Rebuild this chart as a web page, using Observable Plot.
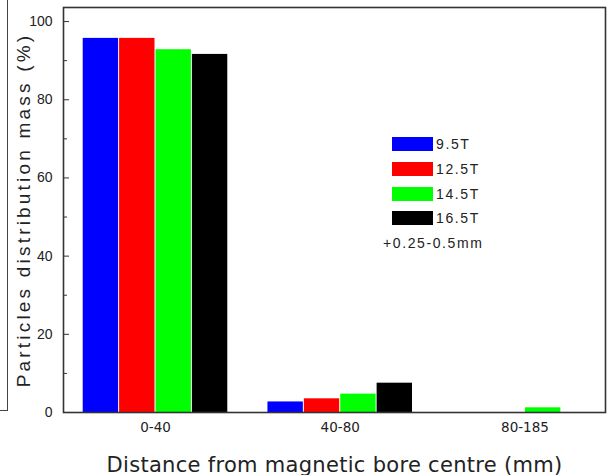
<!DOCTYPE html>
<html>
<head>
<meta charset="utf-8">
<script src="https://cdn.jsdelivr.net/npm/d3@7"></script>
<script src="https://cdn.jsdelivr.net/npm/@observablehq/plot@0.6"></script>
<style>
  body { margin: 0; background: #fff; }
  #chart { position: relative; width: 612px; height: 475px; overflow: hidden; background: #fff; }
  #chart svg { position: absolute; left: 0; top: 0; }
  g[aria-label="y-axis label"] text { letter-spacing: 3.2px; }
  g[aria-label="x-axis label"] text { letter-spacing: 0.3px; }
  .edge { position: absolute; left: 0; top: 0; width: 7px; height: 410px;
          border-right: 1.5px solid #444; border-bottom: 1.5px solid #444; }
  .legend { position: absolute; left: 383px; top: 132px; font-family: "Liberation Sans", Arial, sans-serif;
            font-size: 14px; color: #222; letter-spacing: 1.6px; }
  .legend .row { display: flex; align-items: center; height: 24.7px; margin-left: 9px; }
  .legend .sw { width: 41px; height: 14px; margin-right: 3px; }
  .legend .note { margin-top: 4px; }
</style>
</head>
<body>
<div id="chart"></div>
<script>
// Distance bands from the magnetic bore centre (mm)
const groups = ["0-40", "40-80", "80-185"];
// Field strengths
const series = ["9.5T", "12.5T", "14.5T", "16.5T"];
const colors = ["#0000ff", "#ff0000", "#00ff00", "#000000"];
// Particle mass distribution (%) per distance band, one array per field strength
const mass_9_5T = [95.7, 2.7, 0];
const mass_12_5T = [95.7, 3.5, 0];
const mass_14_5T = [92.8, 4.7, 1.2];
const mass_16_5T = [91.6, 7.5, 0];
const yTicks = [0, 20, 40, 60, 80, 100];
const yMinorTicks = [10, 30, 50, 70, 90];
const sizeNote = "+0.25-0.5mm";

// Each band occupies one unit on x; the four bars sit side by side around it
const barWidth = 0.197;
const rows = [];
[mass_9_5T, mass_12_5T, mass_14_5T, mass_16_5T].forEach((vals, s) => {
  vals.forEach((v, g) => {
    const x1 = g + (s - 2) * barWidth;
    rows.push({group: groups[g], series: series[s], value: v, x1, x2: x1 + barWidth});
  });
});

const chart = Plot.plot({
  width: 612,
  height: 475,
  marginLeft: 63,
  marginRight: 7,
  marginTop: 7,
  marginBottom: 63,
  x: {domain: [-0.498, 2.436]},
  y: {domain: [0, 103.6]},
  color: {domain: series, range: colors},
  style: {fontFamily: "'Liberation Sans', Arial, sans-serif", background: "#fff", color: "#222"},
  marks: [
    Plot.rectY(rows.filter(d => d.value > 0), {
      x1: "x1", x2: "x2", y: "value", fill: "series", insetLeft: 0.5, insetRight: 0.5
    }),
    Plot.frame({stroke: "#333", strokeWidth: 1.6}),
    // inward major and minor ticks
    Plot.axisY({ticks: yTicks, tickSize: -6, text: null, label: null, stroke: "#333"}),
    Plot.axisY({ticks: yMinorTicks, tickSize: -4, text: null, label: null, stroke: "#333"}),
    Plot.axisY({ticks: yTicks, tickSize: 0, tickPadding: 11, fontSize: 14, label: null}),
    Plot.axisY({
      ticks: [], label: "Particles distribution mass (%)", labelAnchor: "center",
      labelOffset: 47, fontSize: 19, labelArrow: "none"
    }),
    Plot.axisX({
      ticks: [0, 1, 2], tickFormat: i => groups[i], tickSize: 0, tickPadding: 10,
      fontSize: 13.5, fontFamily: "'DejaVu Sans', sans-serif", label: null
    }),
    Plot.axisX({
      ticks: [], label: "Distance from magnetic bore centre (mm)", labelAnchor: "center",
      labelOffset: 59, fontSize: 21, fontFamily: "'DejaVu Sans', sans-serif", labelArrow: "none"
    })
  ]
});

const root = document.getElementById("chart");
root.appendChild(chart);

const edge = document.createElement("div");
edge.className = "edge";
root.appendChild(edge);

// Legend for the field strengths plus the particle size note
const legend = d3.select(root).append("div").attr("class", "legend");
series.forEach((name, i) => {
  const row = legend.append("div").attr("class", "row");
  row.append("div").attr("class", "sw").style("background", colors[i]);
  row.append("span").text(name);
});
legend.append("div").attr("class", "note").text(sizeNote);
</script>
</body>
</html>
